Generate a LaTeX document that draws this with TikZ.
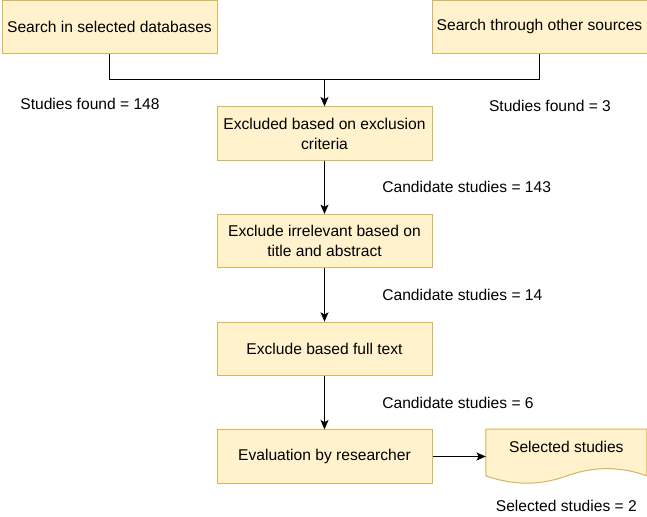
\documentclass[tikz,border=0pt]{standalone}
\usepackage{fontspec}
\setmainfont{Liberation Sans}
\usetikzlibrary{positioning,arrows.meta}

\definecolor{boxfill}{HTML}{FFF2CC}
\definecolor{boxline}{HTML}{D6B656}

\begin{document}
\begin{tikzpicture}[x=0.75pt,y=-0.75pt,
			>={Stealth[length=7pt,width=6pt,inset=1.6pt]},
			line width=0.75pt,
			node distance=40pt,
			every node/.style={
				font=\fontsize{11.7pt}{15pt}\selectfont,
				align=center
			},
			box/.style={
				draw=boxline,
				fill=boxfill,
				minimum width=161.25pt,
				minimum height=40pt,
				inner sep=2pt
			},
			lbl/.style={inner sep=2pt},
			docnode/.style={
				minimum width=120pt,
				minimum height=40.5pt,
				text depth=15pt,
				inner sep=0pt
			}]
			
			\useasboundingbox (0,0) rectangle (647,517);
			
			\node[box] (dbsearch) at (109.5,26.7){Search in selected databases};
			
			\node[box] (othersearch) at (539.5,26.7){Search through other sources};
			
			\node[box] (criteria) at (324.5,133.5){Excluded based on exclusion\\criteria};
			
			\node[box] (abstract)[below=of criteria]{Exclude irrelevant based on\\title and abstract};
			
			\node[box] (fulltext)[below=of abstract]{Exclude based full text};
			
			\node[box] (researcher)[below=of fulltext]{Evaluation by researcher};
			
			\node[docnode] (selected)[right=of researcher]{Selected studies};
			
			% document outline with wavy bottom
			\draw[draw=boxline,fill=boxfill]
				(selected.north west) -- (selected.north east)
				-- ([yshift=6.1pt]selected.south east)
				.. controls ([shift={(-26.7,-17.8)}]selected.south east) and ([shift={(-53.3,-17.8)}]selected.south east) .. ([shift={(-80,-8.1)}]selected.south east)
				.. controls ([shift={(-106.7,1.6)}]selected.south east) and ([shift={(-133.3,1.6)}]selected.south east) .. ([yshift=6.1pt]selected.south west)
				-- cycle;
			\node[docnode] at (selected){Selected studies};
			
			\node[lbl] (found148) at (90,104){Studies found = 148};
			
			\node[lbl] (found3) at (550,106){Studies found = 3};
			
			\node[lbl] (final)[below=10pt of selected]{Selected studies = 2};
			
			\coordinate (join) at ([yshift=20.25pt]criteria.north);
			
			\draw(dbsearch)|-(join);
			
			\draw(othersearch)|-(join);
			
			\draw[->](join)--(criteria);
			
			\draw[->](criteria)--node[lbl,right=41pt](cand143){Candidate studies = 143}(abstract);
			
			\draw[->](abstract)--node[lbl,right=41pt](cand14){Candidate studies = 14}(fulltext);
			
			\draw[->](fulltext)--node[lbl,right=41pt](cand6){Candidate studies = 6}(researcher);
			
			\draw[->](researcher)--(selected);
			
		\end{tikzpicture}
\end{document}
